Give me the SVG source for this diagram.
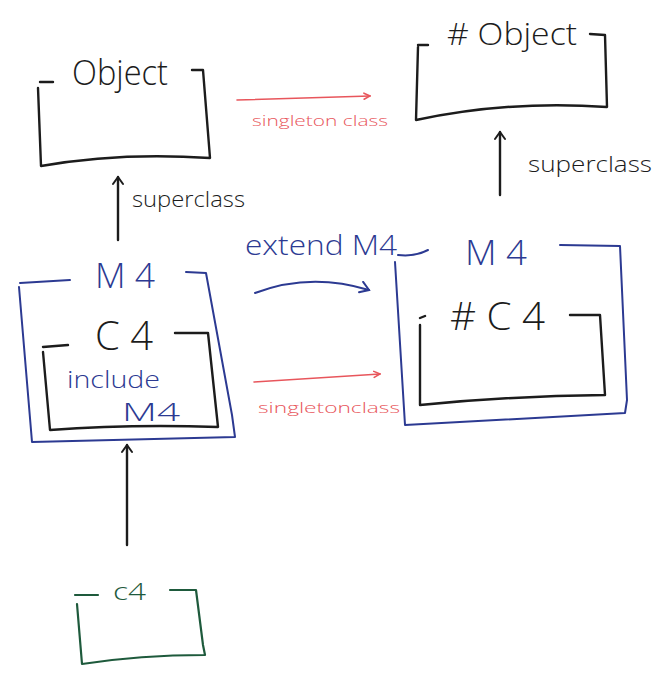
<svg xmlns="http://www.w3.org/2000/svg" width="660" height="677" viewBox="0 0 660 677">
<defs>
<style>
.k{fill:none;stroke:#1c1c1c;stroke-width:2.4;stroke-linecap:round;stroke-linejoin:round}
.b{fill:none;stroke:#2c3a92;stroke-width:2;stroke-linecap:round;stroke-linejoin:round}
.r{fill:none;stroke:#e8565c;stroke-width:1.6;stroke-linecap:round}
.g{fill:none;stroke:#1e5a3c;stroke-width:2.2;stroke-linecap:round;stroke-linejoin:round}
text{font-family:"Open Sans","Liberation Sans",sans-serif;font-weight:300}
.tk{fill:#1c1c1c}.tb{fill:#2c3a92}.tr{fill:#e8565c}.tg{fill:#1e5a3c}
</style>
<marker id="ak" viewBox="0 0 12 12" refX="10" refY="6" markerWidth="12" markerHeight="12" markerUnits="userSpaceOnUse" orient="auto"><path d="M3,1 L10,6 L3,11" fill="none" stroke="#1c1c1c" stroke-width="2" stroke-linecap="round" stroke-linejoin="round"/></marker>
<marker id="ab" viewBox="0 0 14 14" refX="12" refY="7" markerWidth="14" markerHeight="14" markerUnits="userSpaceOnUse" orient="auto"><path d="M4,1 L12,7 L3,12" fill="none" stroke="#2c3a92" stroke-width="2" stroke-linecap="round"/></marker>
<marker id="ar" viewBox="0 0 10 10" refX="9" refY="5" markerWidth="10" markerHeight="10" markerUnits="userSpaceOnUse" orient="auto"><path d="M3,2 L9,5 L3,8" fill="none" stroke="#e8565c" stroke-width="1.6" stroke-linecap="round"/></marker>
</defs>
<rect width="660" height="677" fill="#ffffff"/>

<g id="object">
<path class="k" d="M40,82 L53,82 M38,88 L41,166 Q120,152 210,158 L203,70 L192,70"/>
<text class="tk" x="72" y="85" font-size="34" textLength="96" lengthAdjust="spacingAndGlyphs">Object</text>
</g>

<g id="meta-object">
<path class="k" d="M418,45 L428,45 M418,47 L416,120 Q510,100 607,107 L605,35 L590,34"/>
<text class="tk" x="447" y="45" font-size="32" textLength="130" lengthAdjust="spacingAndGlyphs"># Object</text>
</g>

<g id="m4-left">
<path class="b" d="M20,283 L70,280 M19,287 L32,442 L235,437 L232,415 L206,273 L186,272"/>
<text class="tb" x="95" y="288" font-size="34" textLength="60" lengthAdjust="spacingAndGlyphs">M 4</text>
</g>

<g id="c4">
<path class="k" d="M43,347 L68,345 M43,352 L50,430 Q130,424 218,427 L208,333 L175,333"/>
<text class="tk" x="95" y="350" font-size="40" textLength="58" lengthAdjust="spacingAndGlyphs">C 4</text>
<text class="tb" x="67" y="388" font-size="24" textLength="93" lengthAdjust="spacingAndGlyphs">include</text>
<text class="tb" x="122" y="421" font-size="26" textLength="58" lengthAdjust="spacingAndGlyphs">M4</text>
</g>

<g id="m4-right">
<path class="b" d="M398,255 Q415,257 428,250 M395,262 L405,425 L625,413 L627,400 L620,246 L560,245"/>
<text class="tb" x="465" y="265" font-size="34" textLength="62" lengthAdjust="spacingAndGlyphs">M 4</text>
</g>

<g id="meta-c4">
<path class="k" d="M420,318 L425,316 M420,325 L420,405 Q510,396 605,395 L600,315 L570,315"/>
<text class="tk" x="450" y="330" font-size="38" textLength="95" lengthAdjust="spacingAndGlyphs"># C 4</text>
</g>

<g id="c4-instance">
<path class="g" d="M75,595 L98,595 M77,604 L82,664 Q140,655 205,655 L203,645 L196,590 L170,590"/>
<text class="tg" x="113" y="600" font-size="24" textLength="33" lengthAdjust="spacingAndGlyphs">c4</text>
</g>

<g id="connectors">
<path class="k" d="M118,240 L118,177" marker-end="url(#ak)"/>
<path class="k" d="M500,195 L500,132" marker-end="url(#ak)"/>
<path class="k" d="M127,545 L127,445" marker-end="url(#ak)"/>
<path class="r" d="M237,100 L370,96" marker-end="url(#ar)"/>
<path class="r" d="M254,382 L380,374" marker-end="url(#ar)"/>
<path class="b" d="M255,293 Q310,272 369,290" marker-end="url(#ab)"/>
<text class="tk" x="132" y="207" font-size="22" textLength="113" lengthAdjust="spacingAndGlyphs">superclass</text>
<text class="tk" x="528" y="172" font-size="22" textLength="124" lengthAdjust="spacingAndGlyphs">superclass</text>
<text class="tr" x="252" y="126" font-size="15" textLength="136" lengthAdjust="spacingAndGlyphs">singleton class</text>
<text class="tr" x="258" y="413" font-size="15" textLength="142" lengthAdjust="spacingAndGlyphs">singletonclass</text>
<text class="tb" x="245" y="255" font-size="28" textLength="152" lengthAdjust="spacingAndGlyphs">extend M4</text>
</g>
</svg>
